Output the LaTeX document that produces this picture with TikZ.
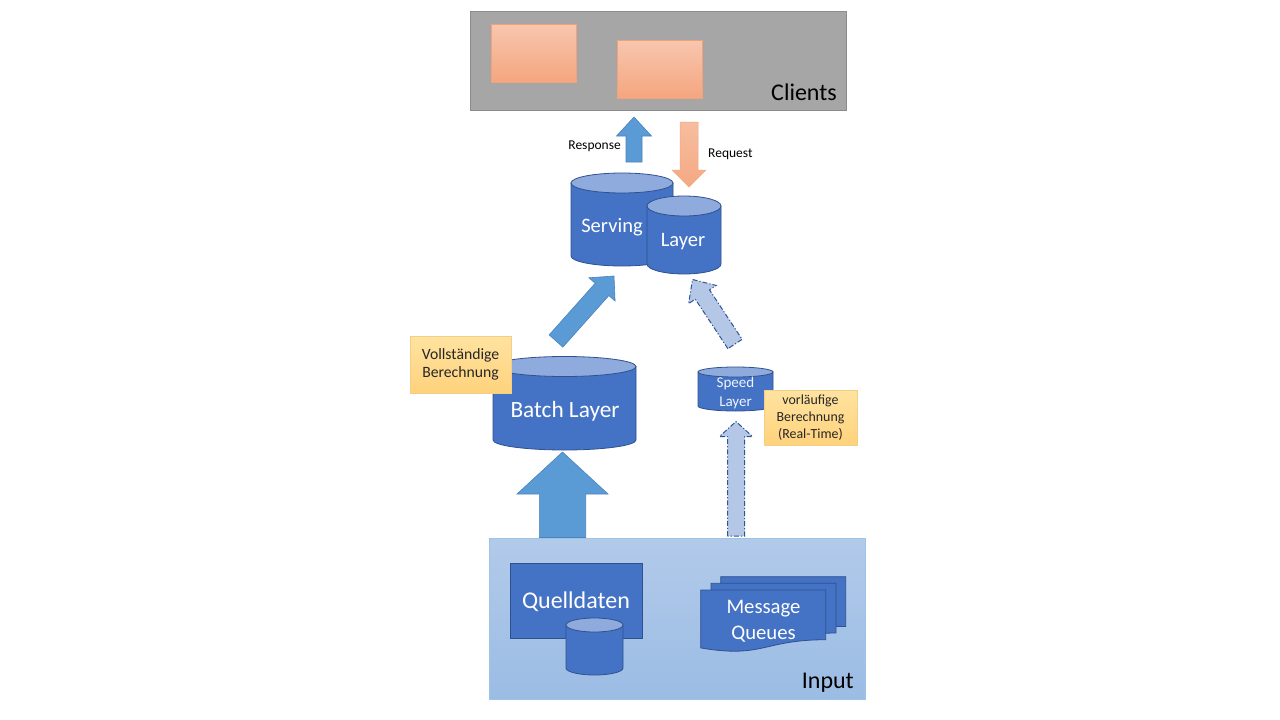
\documentclass[tikz,border=0pt]{standalone}
\usepackage{fontspec}
\setmainfont{Carlito}
\usetikzlibrary{calc}
\definecolor{cblue}{HTML}{4472C4}
\definecolor{cbluedark}{HTML}{2F528F}
\definecolor{ctop}{HTML}{8FAADC}
\definecolor{carrow}{HTML}{5B9BD5}
\definecolor{carrowdark}{HTML}{4A84BE}
\definecolor{clight}{HTML}{B4C7E7}
\definecolor{cdash}{HTML}{2F5597}
\definecolor{cgray}{HTML}{A6A6A6}
\definecolor{cgraydark}{HTML}{8C8C8C}
\definecolor{corangeT}{HTML}{F8C6AF}
\definecolor{corangeB}{HTML}{F4A67F}
\definecolor{corangeD}{HTML}{F1A27C}
\definecolor{creqT}{HTML}{F7BD9F}
\definecolor{creqB}{HTML}{F4A983}
\definecolor{cnoteT}{HTML}{FFE3A0}
\definecolor{cnoteB}{HTML}{FFD27C}
\definecolor{cnoteD}{HTML}{F5CE86}
\definecolor{cinT}{HTML}{B2CAEA}
\definecolor{cinB}{HTML}{9BBCE4}
\definecolor{cinD}{HTML}{9DC3E6}
\tikzset{
  cylbody/.style={fill=cblue,draw=cbluedark,line width=0.8pt},
  cyltop/.style={fill=ctop,draw=cbluedark,line width=0.8pt},
  bluebox/.style={fill=cblue,draw=cbluedark,line width=0.8pt},
  solidarrow/.style={fill=carrow,draw=carrowdark,line width=0.6pt},
  dasharrow/.style={fill=clight,draw=cdash,line width=1pt,dash pattern=on 5pt off 2pt on 1.2pt off 2pt},
  reqarrow/.style={top color=creqT,bottom color=creqB,draw=creqB,line width=0.5pt},
  clientbox/.style={top color=corangeT,bottom color=corangeB,draw=corangeD,line width=0.8pt},
  notebox/.style={top color=cnoteT,bottom color=cnoteB,draw=cnoteD,line width=0.6pt,inner sep=0pt,align=center,text=black!85},
  whitetext/.style={text=white,inner sep=0pt},
  blacktext/.style={text=black,inner sep=0pt}
}
% block arrow: #1 style, #2 tail, #3 tip, #4 half shaft width, #5 half head width, #6 head length
\newcommand\myarrow[6]{%
  \coordinate (ab) at ($(#3)!#6!(#2)$);
  \path[#1] ($(#2)!#4!90:(#3)$) -- ($(ab)!#4!90:(#3)$) -- ($(ab)!#5!90:(#3)$) -- (#3)
    -- ($(ab)!#5!-90:(#3)$) -- ($(ab)!#4!-90:(#3)$) -- ($(#2)!#4!-90:(#3)$) -- cycle;
}
% cylinder: #1 x1, #2 x2, #3 top ellipse centre y, #4 bottom ellipse centre y, #5 ry
\newcommand\mycyl[5]{%
  \path[cylbody] (#1,#3) -- (#1,#4)
    .. controls (#1,{#4+0.552*#5}) and ({(#1+#2)/2-0.552*(#2-#1)/2},{#4+#5}) .. ({(#1+#2)/2},{#4+#5})
    .. controls ({(#1+#2)/2+0.552*(#2-#1)/2},{#4+#5}) and (#2,{#4+0.552*#5}) .. (#2,#4)
    -- (#2,#3) -- cycle;
  \path[cyltop] ({(#1+#2)/2},#3) ellipse [x radius={(#2-#1)/2*1pt}, y radius=#5pt];
}
% document shape: #1 x1, #2 top y, #3 width, #4 height
\newcommand\mydoc[4]{%
  \path[bluebox] (#1,#2) -- ({#1+#3},#2) -- ({#1+#3},{#2+0.802*#4})
    .. controls ({#1+0.5*#3},{#2+0.802*#4}) and ({#1+0.5*#3},{#2+1.107*#4}) .. (#1,{#2+0.934*#4}) -- cycle;
}
\begin{document}
\begin{tikzpicture}[x=1pt,y=-1pt]
\useasboundingbox (0,0) rectangle (1280,720);
\fill[white] (0,0) rectangle (1280,720);

% Clients
\node[fill=cgray,draw=cgraydark,line width=0.6pt,minimum width=376pt,minimum height=99pt,inner sep=0pt] (clients) at (658,60.5) {};
\node[clientbox,minimum width=85pt,minimum height=58pt,inner sep=0pt] (c1) at (533.5,53) {};
\node[clientbox,minimum width=85pt,minimum height=58pt,inner sep=0pt] (c2) at (659.5,69) {};
\node[blacktext,anchor=base east,font=\fontsize{24}{28}\selectfont] (clientslbl) at (837,100) {Clients};

% Response / Request arrows
\coordinate (respT) at (634,162);
\coordinate (respP) at (634,117);
\myarrow{solidarrow}{respT}{respP}{8pt}{17.5pt}{19pt}
\node[blacktext,anchor=base east,font=\fontsize{13.5}{16}\selectfont] (resplbl) at (621,149) {Response};
\coordinate (reqT) at (689,122);
\coordinate (reqP) at (689,187);
\myarrow{reqarrow}{reqT}{reqP}{9pt}{17pt}{17pt}
\node[blacktext,anchor=base west,font=\fontsize{13.5}{16}\selectfont] (reqlbl) at (708,157.5) {Request};

% Serving layer
\mycyl{571}{673}{183}{256}{10}
\mycyl{647}{721}{206}{264}{10}
\node[whitetext,anchor=base,font=\fontsize{20.5}{24}\selectfont] (serving) at (612,232) {Serving};
\node[whitetext,anchor=base,font=\fontsize{20.5}{24}\selectfont] (servlayer) at (683,246) {Layer};

% Batch layer
\coordinate (bdT) at (556,341);
\coordinate (bdP) at (614,276);
\myarrow{solidarrow}{bdT}{bdP}{9.2pt}{17.5pt}{18pt}
\mycyl{493}{636}{366.5}{440}{10}
\node[whitetext,anchor=base,font=\fontsize{23.3}{28}\selectfont] (batch) at (565,417.5) {Batch Layer};
\node[notebox,minimum width=101pt,minimum height=57pt,font=\fontsize{15.7}{17.8}\selectfont] (note1) at (460.5,364.7) {Vollständige\\Berechnung};

% Speed layer
\coordinate (sdT) at (735,344);
\coordinate (sdP) at (692.5,279.5);
\myarrow{dasharrow}{sdT}{sdP}{8.5pt}{16.5pt}{18pt}
\mycyl{698}{773}{372}{406}{5}
\node[whitetext,anchor=base,font=\fontsize{15}{18}\selectfont,text=white!92!cblue] (speedA) at (735.5,387.7) {Speed};
\node[whitetext,anchor=base,font=\fontsize{15}{18}\selectfont,text=white!92!cblue] (speedB) at (735.5,406) {Layer};
\node[notebox,minimum width=93pt,minimum height=55pt,font=\fontsize{13.9}{16.8}\selectfont] (note2) at (810.5,417.5) {vorläufige\\Berechnung\\(Real-Time)};

% Input
\node[top color=cinT,bottom color=cinB,draw=cinD,line width=0.6pt,minimum width=376pt,minimum height=161pt,inner sep=0pt] (input) at (677,619) {};
\node[blacktext,anchor=base east,font=\fontsize{24}{28}\selectfont] (inputlbl) at (854,688) {Input};

% Batch input arrow
\coordinate (biT) at (562.5,537.5);
\coordinate (biP) at (562.5,452);
\myarrow{solidarrow}{biT}{biP}{23.2pt}{45.5pt}{42pt}
% Speed input arrow
\coordinate (siT) at (736,536);
\coordinate (siP) at (736,421.5);
\myarrow{dasharrow}{siT}{siP}{8.5pt}{16.5pt}{15pt}

% Quelldaten
\node[bluebox,minimum width=132pt,minimum height=75pt,inner sep=0pt] (quell) at (576,601) {};
\node[whitetext,font=\fontsize{24}{28}\selectfont] (quelllbl) at (576,601.5) {Quelldaten};
\mycyl{566}{623}{625}{668}{7}

% Message queues
\mydoc{720.7}{576.7}{125}{62}
\mydoc{711}{583.3}{125}{62}
\mydoc{700.7}{590}{125}{62}
\node[whitetext,anchor=base,font=\fontsize{20.7}{25}\selectfont] (mqA) at (763.5,613.5) {Message};
\node[whitetext,anchor=base,font=\fontsize{20.7}{25}\selectfont] (mqB) at (763.5,639) {Queues};
\end{tikzpicture}
\end{document}
